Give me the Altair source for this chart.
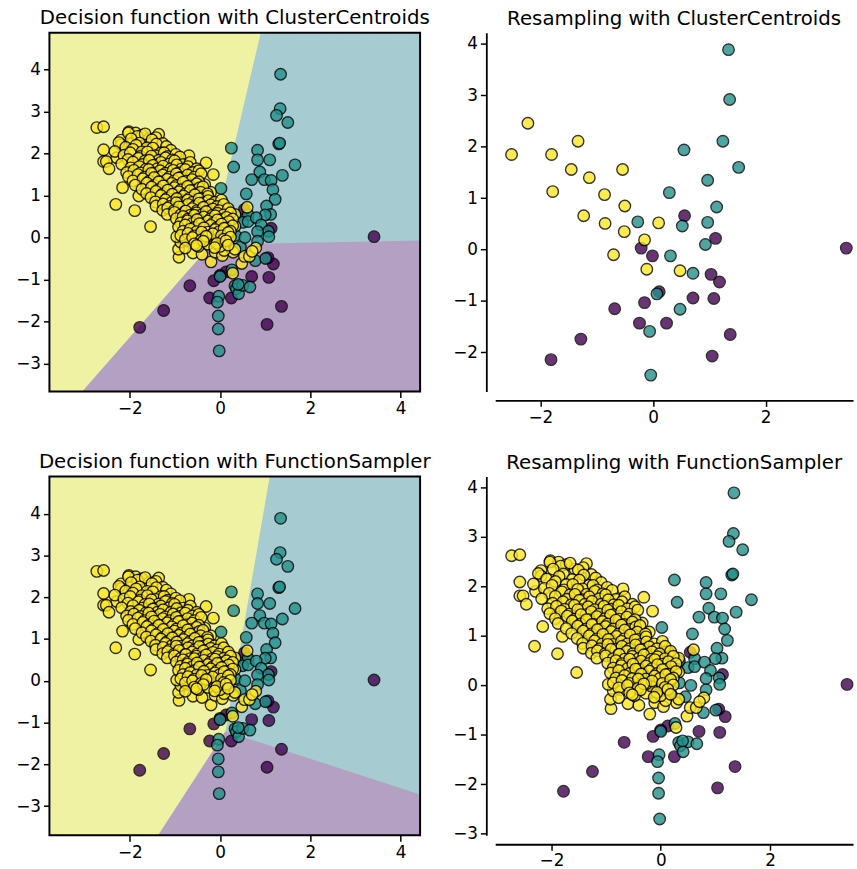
import altair as alt
import pandas as pd

# ---------------- original dataset (class 0 = purple, 1 = teal, 2 = yellow)
purple_pts = [(3.41, 0.02), (0.54, 0.67), (1.13, 0.22), (-0.18, 0.03), (0.0, -0.11), (1.18, -0.63),
              (1.08, -0.95), (0.70, -0.93), (0.13, -0.82), (-0.14, -1.03), (-0.67, -1.15), (-0.23, -1.44),
              (0.25, -1.44), (1.36, -1.64), (1.04, -2.07), (-1.25, -1.74), (-1.78, -2.14), (0.0, -0.9),
              (1.06, -0.48)]

teal_pts = [(1.34, 3.89), (1.33, 3.07), (1.25, 2.91), (1.50, 2.74), (1.30, 2.23), (1.32, 2.25), (0.25, 2.13),
            (0.83, 2.08), (0.30, 1.68), (0.83, 1.85), (1.10, 1.85), (1.66, 1.73), (0.88, 1.56), (1.38, 1.48),
            (0.70, 1.38), (0.98, 1.38), (1.13, 1.36), (1.17, 1.14), (0.02, 1.17), (0.58, 1.04), (1.22, 0.91),
            (1.03, 0.75), (-0.37, 0.70), (1.12, 0.55), (1.00, 0.54), (0.62, 0.54), (0.34, 0.49), (0.50, 0.36),
            (0.62, 0.38), (0.80, 0.47), (0.91, 0.30), (1.07, 0.15), (1.08, 0.02), (0.83, 0.14), (0.34, 0.05),
            (0.83, -0.09), (0.45, -0.23), (0.78, -0.55), (1.01, -0.50), (0.0, -0.93), (0.26, -0.77),
            (0.33, -1.15), (0.36, -1.22), (0.41, -1.34), (0.50, -1.14), (0.66, -1.18), (0.40, -1.12),
            (-0.03, -1.40), (-0.06, -1.54), (-0.04, -1.87), (-0.04, -2.18), (-0.02, -2.70), (0.20, -0.20),
            (0.55, 0.0)]

yellow_outer = [(-2.73, 2.62), (-2.58, 2.64), (-2.02, 2.52), (-1.87, 2.49), (-1.73, 2.44), (-1.36, 2.46),
                (-1.57, 2.35), (-2.19, 2.32), (-2.19, 2.21), (-2.58, 2.09), (-2.29, 1.90), (-2.58, 1.81),
                (-2.52, 1.81), (-2.46, 1.64), (-2.16, 1.19), (-2.31, 0.79), (-1.89, 0.64), (-1.80, 0.99),
                (-1.54, 0.26), (-0.69, 1.95), (-0.31, 1.78), (-0.15, 1.50), (-0.34, 1.26), (-0.21, 1.08),
                (-0.91, -0.47), (-0.60, -0.37), (-0.40, -0.40), (-0.20, -0.58), (-0.11, -0.35), (0.05, -0.43),
                (0.29, -0.35), (0.28, -0.85), (0.48, -0.62), (0.54, -0.45), (0.65, -0.45), (0.79, -0.25),
                (0.71, -0.33), (0.33, 0.55), (0.22, 0.32), (0.10, 0.12), (0.14, 0.67), (0.06, 0.69),
                (-0.14, 0.67), (0.33, 0.27), (0.18, 0.09), (0.33, -0.28), (0.09, -0.31), (0.0, -0.21),
                (-0.92, -0.28), (-0.87, -0.11), (-0.96, 0.02), (-0.72, -0.09), (-0.48, -0.21), (-0.27, -0.16),
                (-0.07, 0.15), (-0.18, -0.01), (-0.52, -0.03), (0.60, 0.72)]

yellow_core = [
    (-2.03, 2.49), (-1.83, 2.41), (-1.66, 2.47), (-1.42, 2.38),
    (-2.24, 2.26), (-1.97, 2.35), (-1.78, 2.25), (-1.51, 2.33), (-1.27, 2.24),
    (-2.09, 2.15), (-1.86, 2.20), (-1.62, 2.14), (-1.41, 2.23), (-1.19, 2.17),
    (-2.33, 2.05), (-1.93, 2.10), (-1.73, 2.04), (-1.49, 2.13), (-1.31, 2.02), (-1.09, 2.08),
    (-2.13, 1.96), (-1.99, 2.02), (-1.77, 1.93), (-1.61, 2.04), (-1.43, 1.95), (-1.24, 2.02), (-1.16, 1.93),
    (-0.98, 1.98),
    (-2.04, 1.86), (-1.81, 1.89), (-1.66, 1.83), (-1.52, 1.94), (-1.36, 1.84), (-1.21, 1.90), (-1.06, 1.85),
    (-0.89, 1.92),
    (-2.18, 1.75), (-1.93, 1.80), (-1.72, 1.74), (-1.57, 1.84), (-1.44, 1.73), (-1.31, 1.79), (-1.13, 1.75),
    (-1.01, 1.83), (-0.82, 1.74), (-0.66, 1.79),
    (-1.98, 1.66), (-1.79, 1.69), (-1.64, 1.63), (-1.49, 1.72), (-1.39, 1.64), (-1.26, 1.70), (-1.09, 1.64),
    (-0.96, 1.73), (-0.86, 1.63), (-0.71, 1.69), (-0.52, 1.64),
    (-2.07, 1.55), (-1.91, 1.60), (-1.76, 1.54), (-1.58, 1.62), (-1.46, 1.53), (-1.33, 1.59), (-1.21, 1.53),
    (-1.04, 1.60), (-0.91, 1.54), (-0.77, 1.62), (-0.61, 1.55), (-0.47, 1.59),
    (-2.03, 1.45), (-1.82, 1.50), (-1.67, 1.44), (-1.52, 1.53), (-1.37, 1.43), (-1.27, 1.49), (-1.12, 1.44),
    (-0.97, 1.52), (-0.87, 1.43), (-0.72, 1.49), (-0.57, 1.44), (-0.42, 1.52),
    (-1.93, 1.35), (-1.71, 1.40), (-1.57, 1.34), (-1.46, 1.43), (-1.32, 1.33), (-1.17, 1.39), (-1.02, 1.35),
    (-0.92, 1.42), (-0.76, 1.34), (-0.62, 1.38), (-0.47, 1.33),
    (-1.88, 1.25), (-1.62, 1.30), (-1.47, 1.24), (-1.36, 1.33), (-1.22, 1.23), (-1.07, 1.29), (-0.97, 1.24),
    (-0.82, 1.32), (-0.67, 1.23), (-0.52, 1.28),
    (-1.73, 1.15), (-1.52, 1.20), (-1.37, 1.14), (-1.26, 1.23), (-1.12, 1.13), (-1.01, 1.19), (-0.87, 1.14),
    (-0.72, 1.22), (-0.57, 1.13), (-0.46, 1.18), (-0.38, 1.21),
    (-1.63, 1.05), (-1.42, 1.10), (-1.27, 1.04), (-1.16, 1.13), (-1.02, 1.03), (-0.91, 1.09), (-0.77, 1.04),
    (-0.66, 1.12), (-0.52, 1.03), (-0.43, 1.08), (-0.28, 1.04),
    (-1.53, 0.95), (-1.31, 1.00), (-1.17, 0.94), (-1.06, 1.03), (-0.92, 0.93), (-0.81, 0.99), (-0.67, 0.94),
    (-0.56, 1.02), (-0.42, 0.93), (-0.27, 0.98),
    (-1.43, 0.85), (-1.21, 0.90), (-1.07, 0.84), (-0.96, 0.93), (-0.87, 0.83), (-0.72, 0.89), (-0.61, 0.84),
    (-0.47, 0.92), (-0.37, 0.83), (-0.26, 0.88), (-0.12, 0.84), (0.03, 0.89),
    (-1.42, 0.75), (-1.26, 0.80), (-1.12, 0.74), (-0.97, 0.83), (-0.82, 0.73), (-0.71, 0.79), (-0.57, 0.74),
    (-0.46, 0.82), (-0.32, 0.73), (-0.21, 0.78), (-0.07, 0.74), (0.08, 0.79),
    (-1.27, 0.65), (-1.16, 0.70), (-1.02, 0.64), (-0.91, 0.73), (-0.77, 0.63), (-0.62, 0.69), (-0.51, 0.64),
    (-0.37, 0.72), (-0.26, 0.63), (-0.16, 0.68), (-0.02, 0.64), (0.18, 0.69),
    (-1.17, 0.55), (-1.01, 0.60), (-0.87, 0.54), (-0.76, 0.63), (-0.66, 0.53), (-0.52, 0.59), (-0.41, 0.54),
    (-0.31, 0.62), (-0.17, 0.53), (-0.06, 0.58), (0.08, 0.54), (0.23, 0.59),
    (-0.97, 0.45), (-0.82, 0.50), (-0.71, 0.44), (-0.57, 0.53), (-0.46, 0.43), (-0.36, 0.49), (-0.22, 0.44),
    (-0.11, 0.52), (0.03, 0.43), (0.14, 0.48), (0.28, 0.44),
    (-0.87, 0.35), (-0.72, 0.40), (-0.61, 0.34), (-0.51, 0.43), (-0.41, 0.33), (-0.27, 0.39), (-0.16, 0.34),
    (-0.06, 0.42), (0.08, 0.33), (0.19, 0.38),
    (-0.92, 0.25), (-0.77, 0.30), (-0.57, 0.24), (-0.46, 0.33), (-0.32, 0.23), (-0.21, 0.29), (-0.07, 0.24),
    (0.03, 0.32), (0.14, 0.23), (0.28, 0.28),
    (-0.82, 0.15), (-0.66, 0.20), (-0.52, 0.14), (-0.36, 0.23), (-0.27, 0.13), (-0.11, 0.19), (-0.02, 0.14),
    (0.09, 0.22), (0.23, 0.15),
    (-0.87, 0.05), (-0.71, 0.10), (-0.57, 0.04), (-0.41, 0.13), (-0.27, 0.03), (-0.16, 0.09), (0.03, 0.04),
    (0.18, 0.12),
    (-0.77, -0.05), (-0.61, 0.00), (-0.42, -0.06), (-0.31, 0.03), (0.08, -0.04), (0.23, 0.01),
    (-0.57, -0.15), (-0.37, -0.09), (-0.07, -0.14), (0.13, -0.08),
    (-0.77, -0.25), (-0.52, -0.19), (-0.12, -0.24), (0.18, -0.18),
]

# ---------------- ClusterCentroids resampled dataset
cc_purple = [(3.43, 0.03), (0.56, 0.66), (1.11, 0.22), (-0.21, 0.03), (-0.01, -0.12), (1.03, -0.48),
             (1.18, -0.63), (0.11, -0.82), (-0.15, -1.03), (0.71, -0.94), (1.08, -0.95), (-0.68, -1.15),
             (-0.24, -1.43), (0.24, -1.43), (1.37, -1.65), (-1.28, -1.74), (-1.81, -2.14), (1.05, -2.07)]
cc_teal = [(1.34, 3.89), (1.36, 2.92), (1.24, 2.11), (0.55, 1.94), (1.52, 1.60), (0.97, 1.35), (0.29, 1.11),
           (1.13, 0.83), (-0.27, 0.54), (0.52, 0.46), (0.97, 0.53), (0.93, 0.10), (0.31, -0.12), (0.71, -0.46),
           (0.07, -0.86), (0.48, -1.16), (-0.06, -1.59), (-0.04, -2.44)]
cc_yellow = [(-2.22, 2.46), (-2.51, 1.85), (-1.80, 1.85), (-1.33, 2.11), (-1.45, 1.56), (-1.13, 1.40),
             (-0.54, 1.56), (-1.78, 1.13), (-0.86, 1.07), (-0.50, 0.85), (-1.23, 0.66), (-0.85, 0.51),
             (-0.51, 0.35), (0.10, 0.52), (-0.15, 0.19), (-0.70, -0.10), (-0.11, -0.38), (0.48, -0.41)]

# ---------------- decision region boundaries (data coords)
cc_yellow_y = [-3.67, -0.17, 4.88]
cc_yellow_xb = [-3.05, -0.20, 0.90]
cc_purple_x = [-3.05, -0.20, 4.43]
cc_purple_yb = [-3.67, -0.17, -0.07]

fs_yellow_y = [-3.70, -1.21, 4.89]
fs_yellow_xb = [-1.37, 0.12, 1.10]
fs_purple_x = [-1.37, 0.12, 4.43]
fs_purple_yb = [-3.70, -1.21, -2.72]

PT_COLORS = ["#440154", "#21918c", "#fde725"]
BG_TEAL = "#a6ccd2"
BG_YELLOW = "#eef2a2"
BG_PURPLE = "#b4a0c2"

LW, RW, H = 375, 362, 363


def make_df(groups):
    rows = []
    for cls, pts in groups:
        for x, y in pts:
            rows.append({"x": x, "y": y, "cls": cls})
    return pd.DataFrame(rows)


orig_df = make_df([(0, purple_pts), (1, teal_pts), (2, yellow_outer + yellow_core)])
cc_df = make_df([(0, cc_purple), (1, cc_teal), (2, cc_yellow)])

color_enc = alt.Color("cls:N", scale=alt.Scale(domain=[0, 1, 2], range=PT_COLORS), legend=None)


def points(df, xs, ys, xa, ya):
    return alt.Chart(df).mark_circle(size=135, opacity=0.8, stroke="black", strokeWidth=1.4).encode(
        x=alt.X("x:Q", scale=xs, axis=xa, title=None),
        y=alt.Y("y:Q", scale=ys, axis=ya, title=None),
        color=color_enc,
    )


def decision_panel(title, xdom, ydom, yvals, yel_y, yel_xb, pur_x, pur_yb):
    xs = alt.Scale(domain=xdom, nice=False, zero=False)
    ys = alt.Scale(domain=ydom, nice=False, zero=False)
    xa = alt.Axis(values=[-2, 0, 2, 4], domain=False)
    ya = alt.Axis(values=yvals, domain=False)
    bg = alt.Chart(pd.DataFrame({"x1": [xdom[0]], "x2": [xdom[1]], "y1": [ydom[0]], "y2": [ydom[1]]})).mark_rect(
        color=BG_TEAL, clip=True).encode(
        x=alt.X("x1:Q", scale=xs, axis=xa, title=None), x2="x2:Q",
        y=alt.Y("y1:Q", scale=ys, axis=ya, title=None), y2="y2:Q")
    yel = alt.Chart(pd.DataFrame({"y": yel_y, "x1": [xdom[0]] * len(yel_y), "x2": yel_xb})).mark_area(
        orient="horizontal", color=BG_YELLOW, clip=True, opacity=1).encode(
        y=alt.Y("y:Q", scale=ys, title=None), x=alt.X("x1:Q", scale=xs, title=None), x2="x2:Q")
    pur = alt.Chart(pd.DataFrame({"x": pur_x, "y1": [ydom[0]] * len(pur_x), "y2": pur_yb})).mark_area(
        orient="vertical", color=BG_PURPLE, clip=True, opacity=1).encode(
        x=alt.X("x:Q", scale=xs, title=None), y=alt.Y("y1:Q", scale=ys, title=None), y2="y2:Q")
    pts = points(orig_df, xs, ys, xa, ya)
    frame = alt.Chart(pd.DataFrame({"a": [0]})).mark_rect(fillOpacity=0, stroke="black", strokeWidth=2).encode(
        x=alt.value(0), x2=alt.value(LW), y=alt.value(0), y2=alt.value(H))
    return alt.layer(bg, yel, pur, pts, frame).properties(width=LW, height=H, title=title)


def resample_panel(title, df, xdom, ydom, yvals):
    xs = alt.Scale(domain=xdom, nice=False, zero=False)
    ys = alt.Scale(domain=ydom, nice=False, zero=False)
    xa = alt.Axis(values=[-2, 0, 2], domain=True, offset=9)
    ya = alt.Axis(values=yvals, domain=True, offset=9)
    return points(df, xs, ys, xa, ya).properties(width=RW, height=H, title=title)


tl = decision_panel("Decision function with ClusterCentroids", [-3.78, 4.43], [-3.67, 4.88],
                    [-3, -2, -1, 0, 1, 2, 3, 4], cc_yellow_y, cc_yellow_xb, cc_purple_x, cc_purple_yb)
tr = resample_panel("Resampling with ClusterCentroids", cc_df, [-2.80, 3.55], [-2.76, 4.22],
                    [-2, -1, 0, 1, 2, 3, 4])
bl = decision_panel("Decision function with FunctionSampler", [-3.78, 4.43], [-3.70, 4.89],
                    [-3, -2, -1, 0, 1, 2, 3, 4], fs_yellow_y, fs_yellow_xb, fs_purple_x, fs_purple_yb)
br = resample_panel("Resampling with FunctionSampler", orig_df, [-3.03, 3.52], [-3.03, 4.22],
                    [-3, -2, -1, 0, 1, 2, 3, 4])

chart = alt.concat(tl, tr, bl, br, columns=2, spacing={"row": 25, "column": 20}).properties(
    padding={"left": 15, "top": 2, "right": 0, "bottom": 0}
).configure_view(stroke="transparent").configure_axis(
    labelFont="DejaVu Sans", labelFontSize=17, labelColor="black", tickColor="black", tickWidth=1.5,
    tickSize=6, labelPadding=3, grid=False, domainColor="black", domainWidth=1.8
).configure_title(
    font="DejaVu Sans", fontSize=20, fontWeight="normal", color="black", offset=4, frame="group", anchor="middle"
)

chart.save("out.html", embed_options={"renderer": "svg", "actions": False})
